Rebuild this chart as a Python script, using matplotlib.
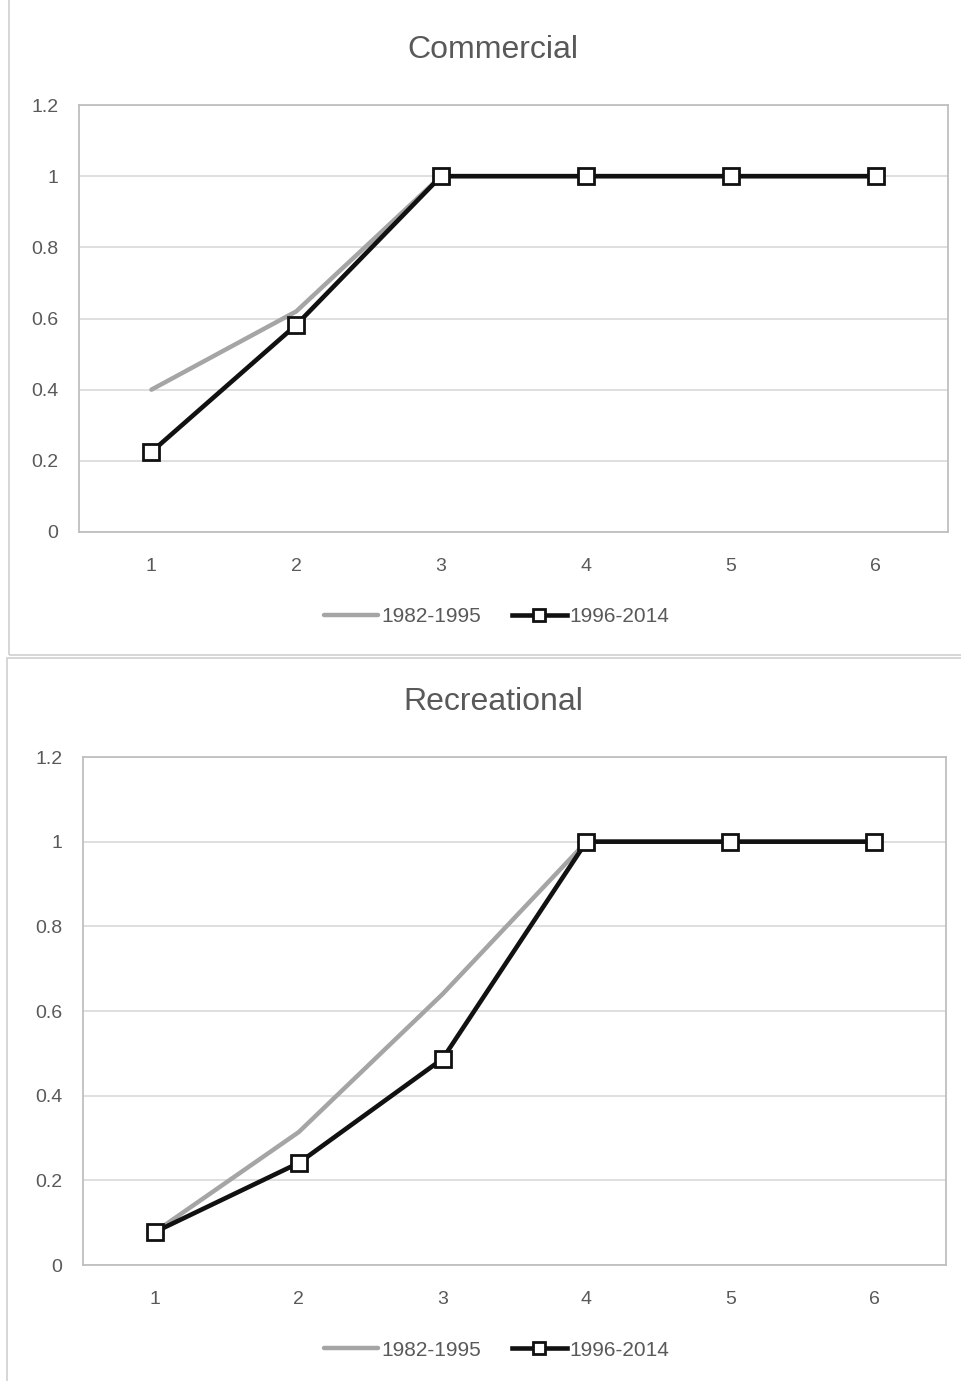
import matplotlib
matplotlib.use("Agg")
import matplotlib.pyplot as plt
from matplotlib.patches import Rectangle

plt.rcParams['font.family'] = ['Liberation Sans', 'DejaVu Sans']

categories = [1, 2, 3, 4, 5, 6]
comm_1982_1995 = [0.40, 0.62, 1.0, 1.0, 1.0, 1.0]
comm_1996_2014 = [0.225, 0.582, 1.0, 1.0, 1.0, 1.0]
rec_1982_1995 = [0.078, 0.314, 0.64, 1.0, 1.0, 1.0]
rec_1996_2014 = [0.078, 0.241, 0.487, 1.0, 1.0, 1.0]
yticks = [0, 0.2, 0.4, 0.6, 0.8, 1.0, 1.2]
ytick_labels = ["0", "0.2", "0.4", "0.6", "0.8", "1", "1.2"]
series_labels = ["1982-1995", "1996-2014"]
titles = ["Commercial", "Recreational"]

W, H = 961, 1381
fig = plt.figure(figsize=(W / 100, H / 100), dpi=100)

text_color = "#595959"
grid_color = "#d9d9d9"

# outer chart borders
fig.patches.append(Rectangle((9 / W, 1 - 655 / H), (W - 9) / W + 0.01, 655 / H + 0.01, transform=fig.transFigure,
                             fill=False, edgecolor="#d0d0d0", linewidth=1.2))
fig.patches.append(Rectangle((7 / W, -0.01), (W - 7) / W + 0.01, 1 - 658 / H + 0.01, transform=fig.transFigure,
                             fill=False, edgecolor="#d0d0d0", linewidth=1.2))

panels = [
    dict(rect=[79 / W, 1 - 532 / H, 869 / W, 427 / H], data=(comm_1982_1995, comm_1996_2014),
         title=titles[0], title_y=1 - 50 / H, legend_y=1 - 617 / H),
    dict(rect=[83 / W, 1 - 1265 / H, 863 / W, 508 / H], data=(rec_1982_1995, rec_1996_2014),
         title=titles[1], title_y=1 - 702 / H, legend_y=1 - 1350 / H),
]

for p in panels:
    ax = fig.add_axes(p["rect"])
    a, b = p["data"]
    ax.plot(categories, a, color="#a5a5a5", linewidth=3.2, label=series_labels[0],
            solid_capstyle="round", zorder=3)
    ax.plot(categories, b, color="#111111", linewidth=3.3, marker="s", markersize=12,
            markerfacecolor="white", markeredgecolor="#111111", markeredgewidth=2.0,
            label=series_labels[1], zorder=4)
    ax.set_xlim(0.5, 6.5)
    ax.set_ylim(0, 1.2)
    ax.set_yticks(yticks)
    ax.set_yticklabels(ytick_labels)
    ax.set_xticks(categories)
    ax.set_xticklabels([str(c) for c in categories])
    ax.yaxis.grid(True, color=grid_color, linewidth=1.2)
    ax.set_axisbelow(True)
    for s in ax.spines.values():
        s.set_color("#bfbfbf")
        s.set_linewidth(1.3)
    ax.tick_params(axis="both", length=0, labelsize=14, colors=text_color)
    ax.tick_params(axis="y", pad=15)
    ax.tick_params(axis="x", pad=19)
    fig.text(0.513, p["title_y"], p["title"], ha="center", va="center", fontsize=23, color=text_color)
    fig.legend(handles=ax.get_lines(), labels=series_labels, loc="center",
               bbox_to_anchor=(0.517, p["legend_y"]), ncol=2, frameon=False, fontsize=15,
               labelcolor=text_color, handlelength=2.6, handletextpad=0.15, columnspacing=1.5,
               markerscale=0.7)

fig.savefig("out.png", dpi=100)
